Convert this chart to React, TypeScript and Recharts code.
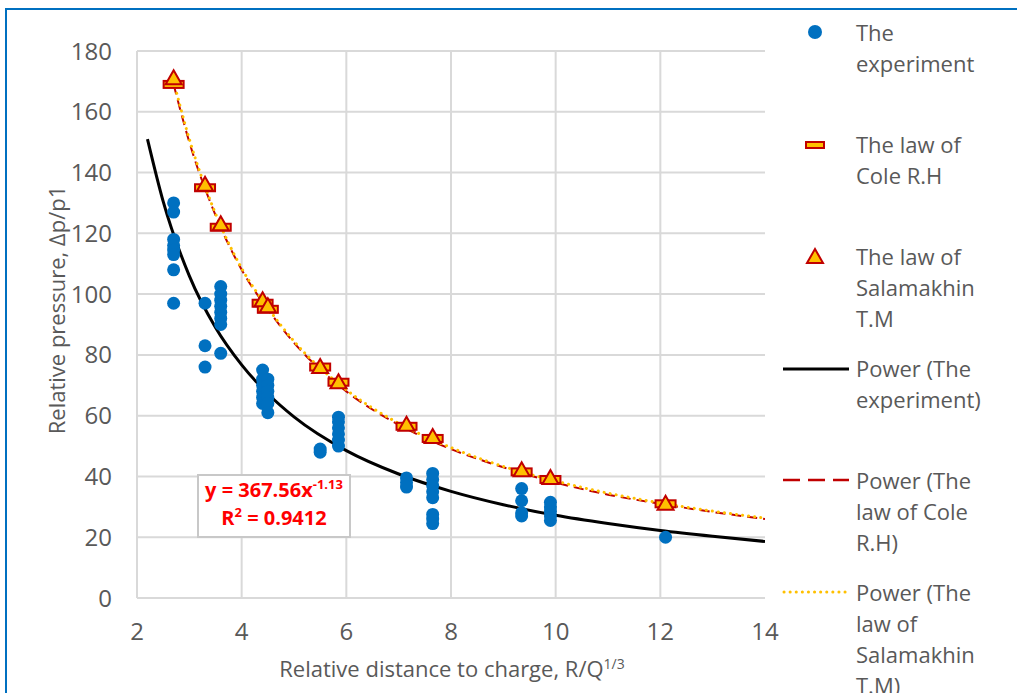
import React from 'react';
import { ComposedChart, Scatter, Line, XAxis, YAxis, CartesianGrid, ReferenceLine } from 'recharts';

const xTicks = [2, 4, 6, 8, 10, 12, 14];
const yTicks = [0, 20, 40, 60, 80, 100, 120, 140, 160, 180];
const gridX = [2, 4, 6, 8, 10, 12];

// experiment points
const experimentX = [
  2.7, 2.7, 2.7, 2.7, 2.7, 2.7, 2.7, 2.7,
  3.3, 3.3, 3.3,
  3.6, 3.6, 3.6, 3.6, 3.6, 3.6, 3.6, 3.6,
  4.4, 4.4, 4.4, 4.4, 4.4, 4.4,
  4.5, 4.5, 4.5, 4.5, 4.5, 4.5,
  5.5, 5.5,
  5.85, 5.85, 5.85, 5.85, 5.85, 5.85,
  7.15, 7.15, 7.15,
  7.65, 7.65, 7.65, 7.65, 7.65, 7.65, 7.65, 7.65,
  9.35, 9.35, 9.35, 9.35,
  9.9, 9.9, 9.9, 9.9, 9.9,
  12.1
];
const experimentY = [
  130, 127, 118, 116, 114.5, 113, 108, 97,
  97, 83, 76,
  102.5, 100, 98, 96, 94, 92, 90, 80.5,
  75, 72, 70, 68, 66, 64,
  72, 70, 68, 66, 64, 61,
  49, 48,
  59.5, 58, 56, 54, 52, 50,
  39.5, 38, 36.5,
  41, 39, 37, 35, 33, 27.5, 26, 24.5,
  36, 32, 28, 27,
  31.5, 30, 28.5, 27, 25.5,
  20
];

const lawX = [2.7, 3.3, 3.6, 4.4, 4.5, 5.5, 5.85, 7.15, 7.65, 9.35, 9.9, 12.1];
const coleY = [169, 135, 122, 97, 95, 76, 71, 56.5, 52.5, 41.5, 39, 31];
const salamakhinY = [171, 136, 123, 98, 96, 76, 71, 57, 53, 42, 39.5, 31];

// trendlines
const expTrendX = [2.2, 2.5, 3, 3.5, 4, 4.5, 5, 6, 7, 8, 9, 10, 11, 12, 13, 14];
const expTrendY = [151, 130.5, 106, 89, 76.7, 67.2, 59.6, 48.5, 40.8, 35.1, 30.7, 27.2, 24.5, 22.2, 20.3, 18.6];
const lawTrendX = [2.7, 3, 3.5, 4, 4.5, 5, 6, 7, 8, 9, 10, 11, 12, 13, 14];
const coleTrendY = [169, 150, 126, 108, 95, 84, 68, 57, 49, 43, 38, 34, 31, 28.3, 26];
const salamakhinTrendY = [170, 151, 126.5, 108.5, 95.5, 84.5, 68.5, 57.5, 49.5, 43.3, 38.5, 34.5, 31.3, 28.6, 26.3];

const zip = (xs: number[], ys: number[]) => xs.map((x, i) => ({ x, y: ys[i] }));

const BLUE = '#0070C0';
const RED = '#C00000';
const GOLD = '#FFC000';
const GREY_TEXT = '#595959';

const BlueDot = (p: any) => <circle cx={p.cx} cy={p.cy} r={6.5} fill={BLUE} />;
const ColeMark = (p: any) => (
  <rect x={p.cx - 10} y={p.cy - 3.5} width={20} height={7} fill={GOLD} stroke={RED} strokeWidth={2} />
);
const Triangle = (p: any) => (
  <path d={`M${p.cx},${p.cy - 8} L${p.cx + 8},${p.cy + 6} L${p.cx - 8},${p.cy + 6} Z`} fill={GOLD} stroke={RED} strokeWidth={2} />
);

const legendText: React.CSSProperties = {
  position: 'absolute',
  left: 856,
  fontSize: 22,
  lineHeight: '31px',
  color: GREY_TEXT,
  whiteSpace: 'nowrap'
};

export default function App() {
  return (
    <div
      style={{
        position: 'fixed',
        left: 0,
        top: 0,
        width: 1017,
        height: 693,
        background: '#fff',
        overflow: 'hidden',
        fontFamily: '"Open Sans", sans-serif'
      }}
    >
      <div style={{ position: 'absolute', left: 5, top: 8, right: 0, height: 2, background: BLUE }} />
      <div style={{ position: 'absolute', left: 5, top: 8, bottom: 0, width: 2, background: BLUE }} />

      <div style={{ position: 'absolute', left: 0, top: 0 }}>
        <ComposedChart width={1017} height={693} margin={{ top: 51, right: 252, bottom: 0, left: 0 }}>
          <CartesianGrid vertical={false} stroke="#D9D9D9" strokeWidth={2} />
          {gridX.map((v) => (
            <ReferenceLine key={v} x={v} stroke="#D9D9D9" strokeWidth={2} />
          ))}
          <XAxis
            type="number"
            dataKey="x"
            domain={[2, 14]}
            ticks={xTicks}
            allowDataOverflow
            height={95}
            axisLine={false}
            tickLine={false}
            tickSize={0}
            tickMargin={25}
            tick={{ fill: GREY_TEXT, fontSize: 24 }}
          />
          <YAxis
            type="number"
            dataKey="y"
            domain={[0, 180]}
            ticks={yTicks}
            allowDataOverflow
            width={137}
            axisLine={false}
            tickLine={false}
            tickSize={0}
            tickMargin={25}
            tick={{ fill: GREY_TEXT, fontSize: 24 }}
          />
          <Scatter name="The experiment" data={zip(experimentX, experimentY)} shape={BlueDot} isAnimationActive={false} />
          <Scatter name="The law of Cole R.H" data={zip(lawX, coleY)} shape={ColeMark} isAnimationActive={false} />
          <Scatter name="The law of Salamakhin T.M" data={zip(lawX, salamakhinY)} shape={Triangle} isAnimationActive={false} />
          <Line
            data={zip(lawTrendX, coleTrendY)}
            dataKey="y"
            type="monotone"
            stroke={RED}
            strokeWidth={2}
            strokeDasharray="10 6"
            dot={false}
            activeDot={false}
            isAnimationActive={false}
          />
          <Line
            data={zip(lawTrendX, salamakhinTrendY)}
            dataKey="y"
            type="monotone"
            stroke={GOLD}
            strokeWidth={3}
            strokeDasharray="0.1 6"
            strokeLinecap="round"
            dot={false}
            activeDot={false}
            isAnimationActive={false}
          />
          <Line
            data={zip(expTrendX, expTrendY)}
            dataKey="y"
            type="monotone"
            stroke="#000"
            strokeWidth={3}
            dot={false}
            activeDot={false}
            isAnimationActive={false}
          />
        </ComposedChart>
      </div>

      {/* axis titles */}
      <div
        style={{
          position: 'absolute',
          left: 56,
          top: 310,
          transform: 'translate(-50%, -50%) rotate(-90deg)',
          fontSize: 22,
          color: GREY_TEXT,
          whiteSpace: 'nowrap'
        }}
      >
        Relative pressure, ∆p/p1
      </div>
      <div
        style={{
          position: 'absolute',
          left: 452,
          top: 668,
          transform: 'translate(-50%, -50%)',
          fontSize: 22,
          color: GREY_TEXT,
          whiteSpace: 'nowrap'
        }}
      >
        Relative distance to charge, R/Q<sup style={{ fontSize: 14 }}>1/3</sup>
      </div>

      {/* equation box */}
      <div
        style={{
          position: 'absolute',
          left: 197,
          top: 474,
          width: 150,
          height: 60,
          border: '2px solid #C8C8C8',
          background: '#fff',
          color: '#FF0000',
          fontWeight: 700,
          fontSize: 20,
          lineHeight: '28px',
          textAlign: 'center',
          paddingTop: 0,
          boxSizing: 'content-box'
        }}
      >
        <div style={{ height: 28 }}>
          y = 367.56x<sup style={{ fontSize: 13, lineHeight: 0 }}>-1.13</sup>
        </div>
        <div style={{ height: 28 }}>
          R<sup style={{ fontSize: 13, lineHeight: 0 }}>2</sup> = 0.9412
        </div>
      </div>

      {/* legend */}
      <svg style={{ position: 'absolute', left: 0, top: 0 }} width={1017} height={693} pointerEvents="none">
        <circle cx={815} cy={32} r={7} fill={BLUE} />
        <rect x={806} y={142} width={18} height={6} fill={GOLD} stroke={RED} strokeWidth={2} />
        <path d="M815,249 L823,263 L807,263 Z" fill={GOLD} stroke={RED} strokeWidth={2} />
        <line x1={783} y1={369} x2={849} y2={369} stroke="#000" strokeWidth={3} />
        <line x1={783} y1={480} x2={849} y2={480} stroke={RED} strokeWidth={2.5} strokeDasharray="17 8" />
        <line x1={784} y1={592} x2={846} y2={592} stroke={GOLD} strokeWidth={3} strokeDasharray="0.1 6" strokeLinecap="round" />
      </svg>
      <div style={{ ...legendText, top: 17 }}>The<br />experiment</div>
      <div style={{ ...legendText, top: 129 }}>The law of<br />Cole R.H</div>
      <div style={{ ...legendText, top: 241 }}>The law of<br />Salamakhin<br />T.M</div>
      <div style={{ ...legendText, top: 353 }}>Power (The<br />experiment)</div>
      <div style={{ ...legendText, top: 465 }}>Power (The<br />law of Cole<br />R.H)</div>
      <div style={{ ...legendText, top: 577 }}>Power (The<br />law of<br />Salamakhin<br />T.M)</div>
    </div>
  );
}
